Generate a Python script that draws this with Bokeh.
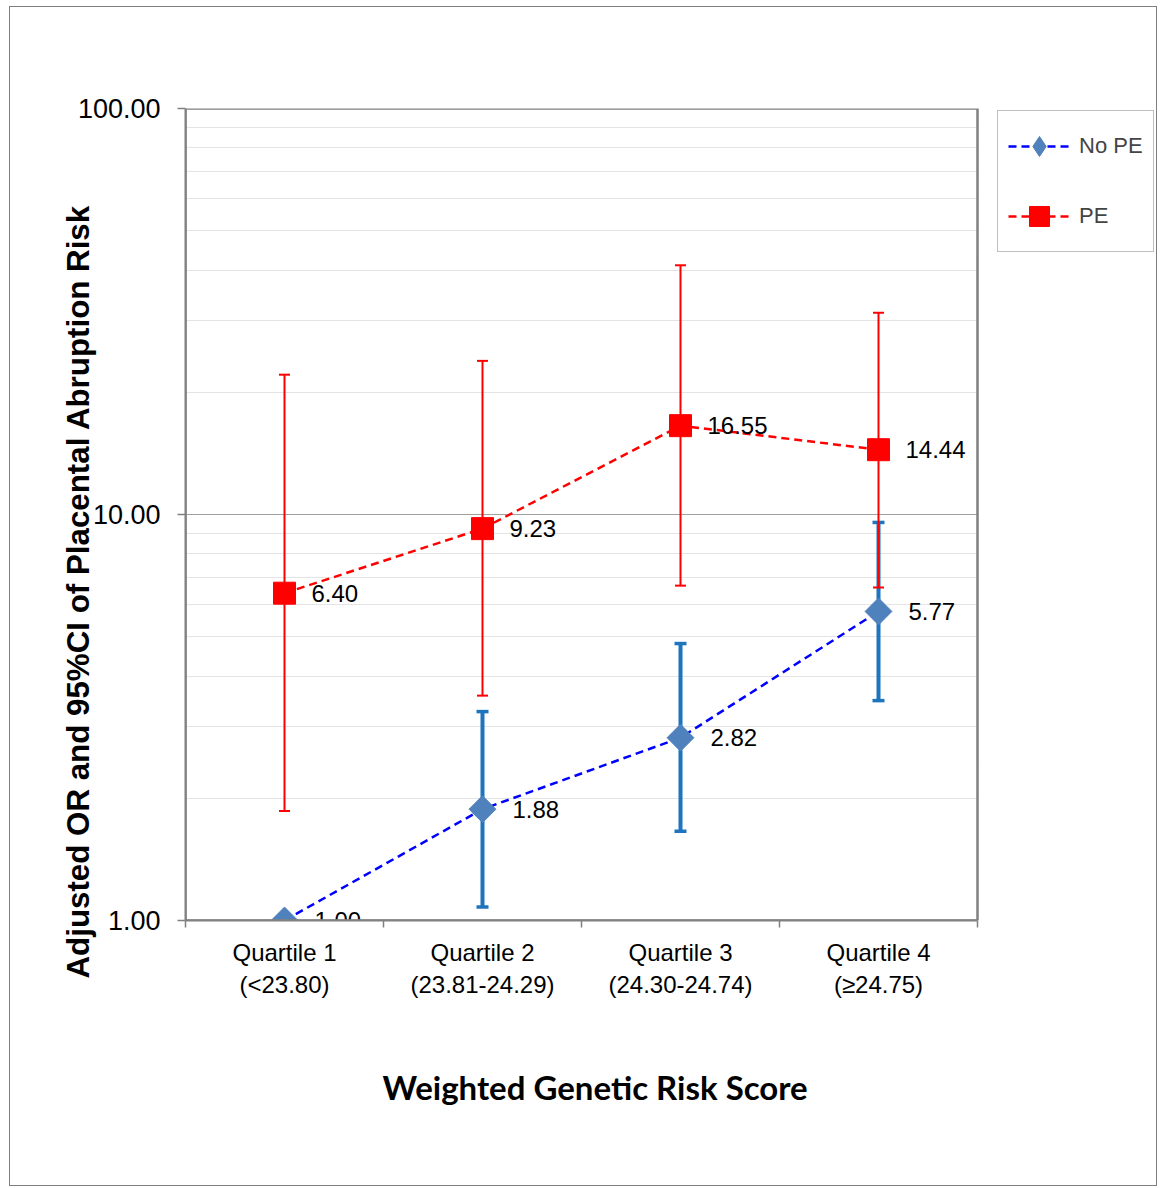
import math
from bokeh.plotting import figure
from bokeh.models import (ColumnDataSource, FixedTicker, Legend, LegendItem, Title,
                          Range1d, BoxAnnotation)
from bokeh.core.properties import value
from bokeh.embed import file_html
from bokeh.resources import INLINE

# ---------------- data ----------------
categories = ["Quartile 1\n(<23.80)", "Quartile 2\n(23.81-24.29)",
              "Quartile 3\n(24.30-24.74)", "Quartile 4\n(\u226524.75)"]
cat_pos = [0.5, 1.5, 2.5, 3.5]
cat_bounds = [0, 1, 2, 3, 4]

no_pe_or = [1.00, 1.88, 2.82, 5.77]
no_pe_labels = ["1.00", "1.88", "2.82", "5.77"]
# reference group (Quartile 1) has no CI
no_pe_ci_idx = [1, 2, 3]
no_pe_lo = [1.08, 1.66, 3.48]
no_pe_hi = [3.27, 4.81, 9.56]

pe_or = [6.40, 9.23, 16.55, 14.44]
pe_labels = ["6.40", "9.23", "16.55", "14.44"]
pe_lo = [1.86, 3.58, 6.68, 6.61]
pe_hi = [22.1, 23.9, 41.1, 31.4]

y_ticks = [1, 10, 100]
y_tick_labels = ["1.00", "10.00", "100.00"]
y_minor = [2, 3, 4, 5, 6, 7, 8, 9, 20, 30, 40, 50, 60, 70, 80, 90]

series_names = ["No PE", "PE"]
x_title = "Weighted Genetic Risk Score"
y_title = "Adjusted OR and 95%CI of Placental Abruption Risk"

# ---------------- styles / layout ----------------
FONT = "Liberation Sans"
GRAY = "#808080"
BLUE_LINE = "#0000FF"
BLUE_MARK = "#4F81BD"
BLUE_BAR = "#1E75BD"
RED = "#FF0000"

W, H = 1148, 1180
LEFT, TOP, BOTTOM = 175, 101, 267
PLOT_W = 792                      # width of the 4-category plotting area
FRAME_W = W - LEFT                # frame extends to the right edge (legend lives there)
n_cat = len(categories)
x_end = n_cat * FRAME_W / PLOT_W

p = figure(width=W, height=H, output_backend="svg", toolbar_location=None,
           y_axis_type="log", x_range=Range1d(0, x_end), y_range=Range1d(1, 100),
           min_border_left=LEFT, min_border_top=TOP, min_border_right=0,
           min_border_bottom=BOTTOM)
p.styles = {"border": "1px solid #7f7f7f", "margin-left": "9px", "margin-top": "6px"}
p.background_fill_color = "white"
p.border_fill_color = "white"
p.outline_line_color = None

# grids
p.xgrid.visible = False
p.ygrid.ticker = FixedTicker(ticks=[10], minor_ticks=y_minor)
p.ygrid.grid_line_color = "#404040"
p.ygrid.grid_line_width = 1
p.ygrid.grid_line_dash = "1 1"
p.ygrid.minor_grid_line_color = "#e4e4e4"
p.ygrid.minor_grid_line_width = 1

# y axis
ya = p.yaxis[0]
ya.ticker = FixedTicker(ticks=y_ticks, minor_ticks=y_minor)
ya.major_label_overrides = {t: l for t, l in zip(y_ticks, y_tick_labels)}
ya.axis_line_color = GRAY
ya.axis_line_width = 2
ya.major_tick_line_color = GRAY
ya.major_tick_line_width = 1.5
ya.major_tick_out = 8
ya.major_tick_in = 0
ya.minor_tick_line_color = None
ya.major_label_standoff = 17
ya.major_label_text_font = FONT
ya.major_label_text_font_size = "27px"
ya.major_label_text_color = "black"

# x axis
xa = p.xaxis[0]
xa.bounds = (0, n_cat)
xa.ticker = FixedTicker(ticks=cat_pos, minor_ticks=cat_bounds)
xa.major_label_overrides = {t: l for t, l in zip(cat_pos, categories)}
xa.axis_line_color = GRAY
xa.axis_line_width = 2
xa.major_tick_line_color = None
xa.major_tick_out = 7
xa.minor_tick_line_color = GRAY
xa.minor_tick_line_width = 1.5
xa.minor_tick_out = 7
xa.minor_tick_in = 0
xa.major_label_standoff = 11
xa.major_label_text_font = FONT
xa.major_label_text_font_size = "24px"
xa.major_label_text_color = "black"

# ---------------- No PE series ----------------
nx = [cat_pos[i] for i in no_pe_ci_idx]
ci_b = ColumnDataSource(dict(x=nx, lo=no_pe_lo, hi=no_pe_hi))
p.segment(x0="x", y0="lo", x1="x", y1="hi", source=ci_b, line_color=BLUE_BAR, line_width=4)
p.scatter(x="x", y="lo", source=ci_b, marker="dash", size=12, line_color=BLUE_BAR, line_width=3.5)
p.scatter(x="x", y="hi", source=ci_b, marker="dash", size=12, line_color=BLUE_BAR, line_width=3.5)

src_b = ColumnDataSource(dict(x=cat_pos, y=no_pe_or, lab=no_pe_labels))
bl = p.line(x="x", y="y", source=src_b, line_color=BLUE_LINE, line_width=2.5, line_dash="8 5")
bm = p.scatter(x="x", y="y", source=src_b, marker="square", angle=math.pi / 4, size=19,
               fill_color=BLUE_MARK, line_color=BLUE_MARK)
p.text(x="x", y="y", text="lab", source=src_b, x_offset=30, text_baseline="middle",
       text_font=value(FONT), text_font_size="24px", text_color="black")
# hidden diamond glyph of the same series, used only for the legend swatch
bm_leg = p.scatter(x="x", y="y", source=src_b, marker="diamond", size=19,
                   fill_color=BLUE_MARK, line_color=BLUE_MARK, visible=False)

# ---------------- PE series ----------------
ci_r = ColumnDataSource(dict(x=cat_pos, lo=pe_lo, hi=pe_hi))
p.segment(x0="x", y0="lo", x1="x", y1="hi", source=ci_r, line_color=RED, line_width=2)
p.scatter(x="x", y="lo", source=ci_r, marker="dash", size=11, line_color=RED, line_width=2)
p.scatter(x="x", y="hi", source=ci_r, marker="dash", size=11, line_color=RED, line_width=2)

src_r = ColumnDataSource(dict(x=cat_pos, y=pe_or, lab=pe_labels))
rl = p.line(x="x", y="y", source=src_r, line_color=RED, line_width=2.5, line_dash="8 5")
rm = p.scatter(x="x", y="y", source=src_r, marker="square", size=22,
               fill_color=RED, line_color=RED)
p.text(x="x", y="y", text="lab", source=src_r, x_offset=27, text_baseline="middle",
       text_font=value(FONT), text_font_size="24px", text_color="black")

# ---------------- plot-area border and blank legend area ----------------
p.add_layout(BoxAnnotation(left=n_cat, fill_color="white", fill_alpha=1,
                           line_color=None))
p.add_layout(BoxAnnotation(left=0, right=n_cat, bottom=1, top=100,
                           fill_alpha=0, line_color=GRAY, line_alpha=1, line_width=2.5))

# ---------------- legend ----------------
legend = Legend(items=[LegendItem(label=series_names[0], renderers=[bl, bm_leg]),
                       LegendItem(label=series_names[1], renderers=[rl, rm])],
                location=(812, 668), orientation="vertical", margin=0,
                padding=10, glyph_width=62, glyph_height=50, label_height=50,
                label_standoff=9, spacing=20,
                label_text_font=FONT, label_text_font_size="22px",
                border_line_color=GRAY, border_line_width=1.5,
                background_fill_color="white", background_fill_alpha=1)
p.add_layout(legend, "center")

# ---------------- axis titles ----------------
p.add_layout(Title(text=y_title, align="left", offset=-58, vertical_align="bottom",
                   standoff=-42, text_font=FONT, text_font_style="bold",
                   text_font_size="31.3px", text_color="black"), "left")
p.add_layout(Title(text=x_title, align="left", offset=197, vertical_align="top",
                   standoff=132, text_font="Lato", text_font_style="bold",
                   text_font_size="33px", text_color="black"), "below")

open("out.html", "w").write(file_html(p, INLINE))
